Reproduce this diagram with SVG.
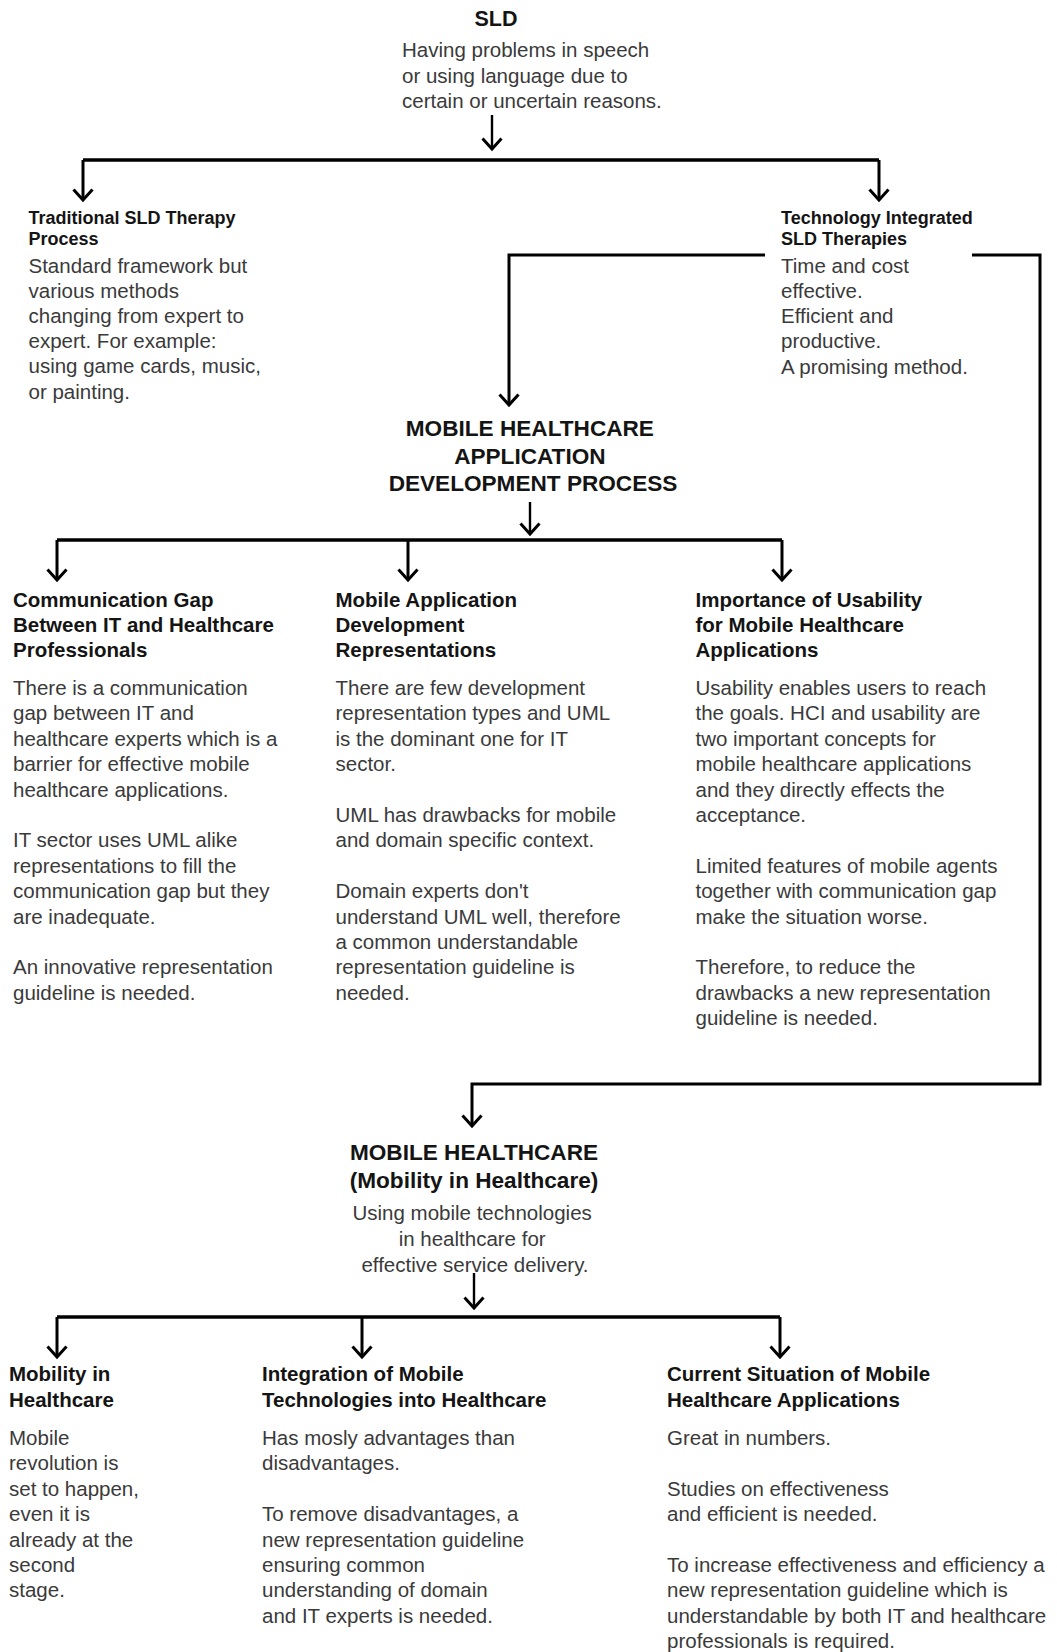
<svg xmlns="http://www.w3.org/2000/svg" width="1057" height="1652" viewBox="0 0 1057 1652">
<style>
  text { font-family: "Liberation Sans", Arial, sans-serif; }
  .body { font-size: 20.5px; fill: #3a3a3a; }
  .head { font-size: 20.5px; font-weight: bold; fill: #141414; }
  .head18 { font-size: 18px; font-weight: bold; fill: #141414; }
  .title { font-size: 22.6px; font-weight: bold; fill: #141414; text-anchor: middle; }
  .ctr { text-anchor: middle; }
  .bus { fill: none; stroke: #000; stroke-width: 3.4; }
  .arr { fill: none; stroke: #000; stroke-width: 3; marker-end: url(#ah); }
  .arrthin { fill: none; stroke: #000; stroke-width: 2.4; marker-end: url(#ah); }
</style>
<defs>
  <marker id="ah" markerUnits="userSpaceOnUse" viewBox="-14 -13 18 26" markerWidth="18" markerHeight="26" refX="0" refY="0" orient="auto" overflow="visible">
    <path d="M-10.5,-9.5 L0,0 L-10.5,9.5" fill="none" stroke="#000" stroke-width="3" stroke-linejoin="miter"/>
  </marker>
</defs>
<rect width="1057" height="1652" fill="#ffffff"/>

<g id="connectors">
  <line class="arrthin" x1="492" y1="115" x2="492" y2="149"/>
  <line class="bus" x1="83" y1="160" x2="879" y2="160"/>
  <line class="arr" x1="83" y1="160" x2="83" y2="200"/>
  <line class="arr" x1="879" y1="160" x2="879" y2="200"/>
  <polyline class="arr" points="765,255 509,255 509,405"/>
  <polyline class="arr" points="972,255 1040,255 1040,1084 472,1084 472,1126"/>
  <line class="arrthin" x1="530" y1="502" x2="530" y2="534"/>
  <line class="bus" x1="57" y1="540" x2="782" y2="540"/>
  <line class="arr" x1="57" y1="540" x2="57" y2="580"/>
  <line class="arr" x1="408" y1="540" x2="408" y2="580"/>
  <line class="arr" x1="782" y1="540" x2="782" y2="580"/>
  <line class="arrthin" x1="474" y1="1273" x2="474" y2="1308"/>
  <line class="bus" x1="57" y1="1317" x2="780" y2="1317"/>
  <line class="arr" x1="57" y1="1317" x2="57" y2="1357"/>
  <line class="arr" x1="362" y1="1317" x2="362" y2="1357"/>
  <line class="arr" x1="780" y1="1317" x2="780" y2="1357"/>
</g>

<g id="sld">
  <text x="496" y="26" class="ctr" style="font-size:21.5px;font-weight:bold;fill:#141414">SLD</text>
  <text class="body">
    <tspan x="402" y="57.3">Having problems in speech</tspan>
    <tspan x="402" y="82.8">or using language due to</tspan>
    <tspan x="402" y="108.3">certain or uncertain reasons.</tspan>
  </text>
</g>

<g id="traditional">
  <text class="head18"><tspan x="28.5" y="223.5">Traditional SLD Therapy</tspan><tspan x="28.5" y="244.5">Process</tspan></text>
  <text class="body">
    <tspan x="28.5" y="272.5">Standard framework but</tspan>
    <tspan x="28.5" y="297.7">various methods</tspan>
    <tspan x="28.5" y="322.9">changing from expert to</tspan>
    <tspan x="28.5" y="348.1">expert. For example:</tspan>
    <tspan x="28.5" y="373.3">using game cards, music,</tspan>
    <tspan x="28.5" y="398.5">or painting.</tspan>
  </text>
</g>

<g id="technology">
  <text class="head18"><tspan x="781" y="223.5">Technology Integrated</tspan><tspan x="781" y="244.5">SLD Therapies</tspan></text>
  <text class="body">
    <tspan x="781" y="272.8">Time and cost</tspan>
    <tspan x="781" y="298">effective.</tspan>
    <tspan x="781" y="323.2">Efficient and</tspan>
    <tspan x="781" y="348.4">productive.</tspan>
    <tspan x="781" y="373.6">A promising method.</tspan>
  </text>
</g>

<g id="mhadp">
  <text class="title">
    <tspan x="533" y="436">MOBILE HEALTHCARE</tspan>
    <tspan x="533" y="463.6">APPLICATION</tspan>
    <tspan x="533" y="491.4">DEVELOPMENT PROCESS</tspan>
  </text>
</g>

<g id="commgap">
  <text class="head"><tspan x="13" y="606.7">Communication Gap</tspan><tspan x="13" y="632">Between IT and Healthcare</tspan><tspan x="13" y="657.3">Professionals</tspan></text>
  <text class="body">
    <tspan x="13" y="695">There is a communication</tspan>
    <tspan x="13" y="720.4">gap between IT and</tspan>
    <tspan x="13" y="745.8">healthcare experts which is a</tspan>
    <tspan x="13" y="771.2">barrier for effective mobile</tspan>
    <tspan x="13" y="796.6">healthcare applications.</tspan>
    <tspan x="13" y="847.4">IT sector uses UML alike</tspan>
    <tspan x="13" y="872.8">representations to fill the</tspan>
    <tspan x="13" y="898.2">communication gap but they</tspan>
    <tspan x="13" y="923.6">are inadequate.</tspan>
    <tspan x="13" y="974.4">An innovative representation</tspan>
    <tspan x="13" y="999.8">guideline is needed.</tspan>
  </text>
</g>

<g id="mobiledev">
  <text class="head"><tspan x="335.5" y="606.7">Mobile Application</tspan><tspan x="335.5" y="632">Development</tspan><tspan x="335.5" y="657.3">Representations</tspan></text>
  <text class="body">
    <tspan x="335.5" y="695">There are few development</tspan>
    <tspan x="335.5" y="720.4">representation types and UML</tspan>
    <tspan x="335.5" y="745.8">is the dominant one for IT</tspan>
    <tspan x="335.5" y="771.2">sector.</tspan>
    <tspan x="335.5" y="822">UML has drawbacks for mobile</tspan>
    <tspan x="335.5" y="847.4">and domain specific context.</tspan>
    <tspan x="335.5" y="898.2">Domain experts don't</tspan>
    <tspan x="335.5" y="923.6">understand UML well, therefore</tspan>
    <tspan x="335.5" y="949">a common understandable</tspan>
    <tspan x="335.5" y="974.4">representation guideline is</tspan>
    <tspan x="335.5" y="999.8">needed.</tspan>
  </text>
</g>

<g id="usability">
  <text class="head"><tspan x="695.5" y="606.7">Importance of Usability</tspan><tspan x="695.5" y="632">for Mobile Healthcare</tspan><tspan x="695.5" y="657.3">Applications</tspan></text>
  <text class="body">
    <tspan x="695.5" y="695">Usability enables users to reach</tspan>
    <tspan x="695.5" y="720.4">the goals. HCI and usability are</tspan>
    <tspan x="695.5" y="745.8">two important concepts for</tspan>
    <tspan x="695.5" y="771.2">mobile healthcare applications</tspan>
    <tspan x="695.5" y="796.6">and they directly effects the</tspan>
    <tspan x="695.5" y="822">acceptance.</tspan>
    <tspan x="695.5" y="872.8">Limited features of mobile agents</tspan>
    <tspan x="695.5" y="898.2">together with communication gap</tspan>
    <tspan x="695.5" y="923.6">make the situation worse.</tspan>
    <tspan x="695.5" y="974.4">Therefore, to reduce the</tspan>
    <tspan x="695.5" y="999.8">drawbacks a new representation</tspan>
    <tspan x="695.5" y="1025.2">guideline is needed.</tspan>
  </text>
</g>

<g id="mobilehealthcare">
  <text class="title"><tspan x="474" y="1160">MOBILE HEALTHCARE</tspan><tspan x="474" y="1187.7">(Mobility in Healthcare)</tspan></text>
  <text class="body ctr">
    <tspan x="475" y="1220">Using mobile technologies</tspan>
    <tspan x="475" y="1246">in healthcare for</tspan>
    <tspan x="475" y="1272">effective service delivery.</tspan>
  </text>
</g>

<g id="mobility">
  <text class="head"><tspan x="9" y="1381">Mobility in</tspan><tspan x="9" y="1406.5">Healthcare</tspan></text>
  <text class="body">
    <tspan x="9" y="1445">Mobile</tspan>
    <tspan x="9" y="1470.4">revolution is</tspan>
    <tspan x="9" y="1495.8">set to happen,</tspan>
    <tspan x="9" y="1521.2">even it is</tspan>
    <tspan x="9" y="1546.6">already at the</tspan>
    <tspan x="9" y="1572">second</tspan>
    <tspan x="9" y="1597.4">stage.</tspan>
  </text>
</g>

<g id="integration">
  <text class="head"><tspan x="262" y="1381">Integration of Mobile</tspan><tspan x="262" y="1406.5">Technologies into Healthcare</tspan></text>
  <text class="body">
    <tspan x="262" y="1445">Has mosly advantages than</tspan>
    <tspan x="262" y="1470.4">disadvantages.</tspan>
    <tspan x="262" y="1521.2">To remove disadvantages, a</tspan>
    <tspan x="262" y="1546.6">new representation guideline</tspan>
    <tspan x="262" y="1572">ensuring common</tspan>
    <tspan x="262" y="1597.4">understanding of domain</tspan>
    <tspan x="262" y="1622.8">and IT experts is needed.</tspan>
  </text>
</g>

<g id="current">
  <text class="head"><tspan x="667" y="1381">Current Situation of Mobile</tspan><tspan x="667" y="1406.5">Healthcare Applications</tspan></text>
  <text class="body">
    <tspan x="667" y="1445">Great in numbers.</tspan>
    <tspan x="667" y="1495.8">Studies on effectiveness</tspan>
    <tspan x="667" y="1521.2">and efficient is needed.</tspan>
    <tspan x="667" y="1572">To increase effectiveness and efficiency a</tspan>
    <tspan x="667" y="1597.4">new representation guideline which is</tspan>
    <tspan x="667" y="1622.8">understandable by both IT and healthcare</tspan>
    <tspan x="667" y="1648.2">professionals is required.</tspan>
  </text>
</g>
</svg>
